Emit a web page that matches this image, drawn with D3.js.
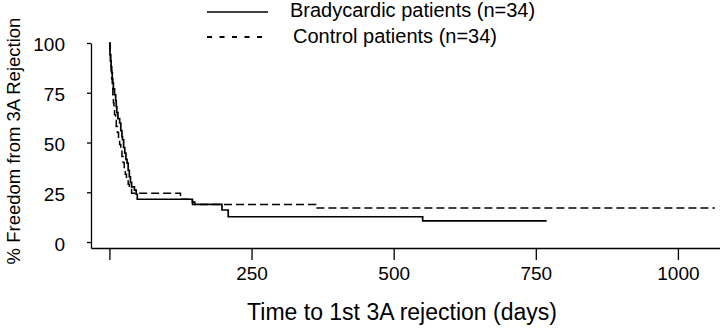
<!DOCTYPE html>
<html><head><meta charset="utf-8">
<script src="https://cdn.jsdelivr.net/npm/d3@7"></script>
<style>
html,body{margin:0;padding:0;background:#fff;}
svg{display:block;}
text{font-family:"Liberation Sans",Arial,sans-serif;fill:#000;}
</style></head>
<body>
<svg id="chart" width="720" height="331"></svg>
<script>
// Kaplan-Meier step data (days, % freedom from 3A rejection)
const bradyDays = [0,1,2,3,4,5,6,7,9,11,12,13,15,18,20,22,23,25,27,29,31,33,35,37,39,44,47,49,146,150,198,209,551,769];
const bradySurv = [100,94,91,88,85,82,80,77,74,71,68,65,62,59.8,56,53,51.4,47.5,44.7,41.5,39.6,36,32.8,30,27.7,26.1,24,21.5,20,18.9,16.1,12.7,10.6,10.6];
const controlDays = [0,1,2,3,4,5,6,7,8,9,11,12,14,16,18,20,22,24,26,28,30,33,35,39,125,146,363,1065];
const controlSurv = [100,95,91,86,82,78,74,70,67,64,61,58,55,52,49,46,43,40,37,34,31.5,29,27,24.5,21.5,18.9,17.1,17.1];
const xTicks = [0,250,500,750,1000];
const yTicks = [0,25,50,75,100];
const legendLabels = ["Bradycardic patients (n=34)","Control patients (n=34)"];

const svg = d3.select("#chart");
const x = d3.scaleLinear().domain([-32.4,1074]).range([91,720]);
const y = d3.scaleLinear().domain([-3,100]).range([248,43]);

const font = '"Liberation Sans",Arial,sans-serif';

// X axis
const gx = svg.append("g").attr("transform","translate(0,248)")
  .call(d3.axisBottom(x).tickValues(xTicks).tickSize(12).tickSizeOuter(0).tickPadding(7)
    .tickFormat(d=>d===0?"":d));
gx.select(".domain").attr("stroke","#000").attr("stroke-width",1.3);
gx.selectAll(".tick line").attr("stroke","#000").attr("stroke-width",1.3);
gx.selectAll(".tick text").style("font-family",font).style("font-size","19px").attr("fill","#000");

// Y axis
const gy = svg.append("g").attr("transform","translate(91,0)")
  .call(d3.axisLeft(y).tickValues(yTicks).tickSize(4).tickSizeOuter(0).tickPadding(22));
gy.select(".domain").attr("stroke","#000").attr("stroke-width",1.3);
gy.selectAll(".tick line").attr("stroke","#000").attr("stroke-width",1.3);
gy.selectAll(".tick text").style("font-family",font).style("font-size","19px").attr("fill","#000").attr("dy","0.42em");

// Curves
const line = d3.line().x(d=>x(d[0])).y(d=>y(d[1])).curve(d3.curveStepAfter);
const brady = bradyDays.map((d,i)=>[d,bradySurv[i]]);
const control = controlDays.map((d,i)=>[d,controlSurv[i]]);
svg.append("path").attr("d",line(control)).attr("fill","none").attr("stroke","#000")
  .attr("stroke-width",1.5).attr("stroke-dasharray","8,4");
svg.append("path").attr("d",line(brady)).attr("fill","none").attr("stroke","#000")
  .attr("stroke-width",1.7);

// Legend
const lg = svg.append("g");
lg.append("line").attr("x1",207).attr("x2",268).attr("y1",12).attr("y2",12).attr("stroke","#000").attr("stroke-width",1.7);
lg.append("line").attr("x1",207).attr("x2",263).attr("y1",37).attr("y2",37).attr("stroke","#000").attr("stroke-width",2).attr("stroke-dasharray","5,7.5");
lg.append("text").attr("x",290).attr("y",17).style("font-size","20px").text(legendLabels[0]);
lg.append("text").attr("x",293).attr("y",43).style("font-size","20px").text(legendLabels[1]);

// Axis titles
svg.append("text").attr("x",402).attr("y",320).attr("text-anchor","middle").style("font-size","23px")
  .text("Time to 1st 3A rejection (days)");
svg.append("text").attr("transform","translate(20,141) rotate(-90)").attr("text-anchor","middle").style("font-size","18.5px")
  .text("% Freedom from 3A Rejection");
</script>
</body></html>
